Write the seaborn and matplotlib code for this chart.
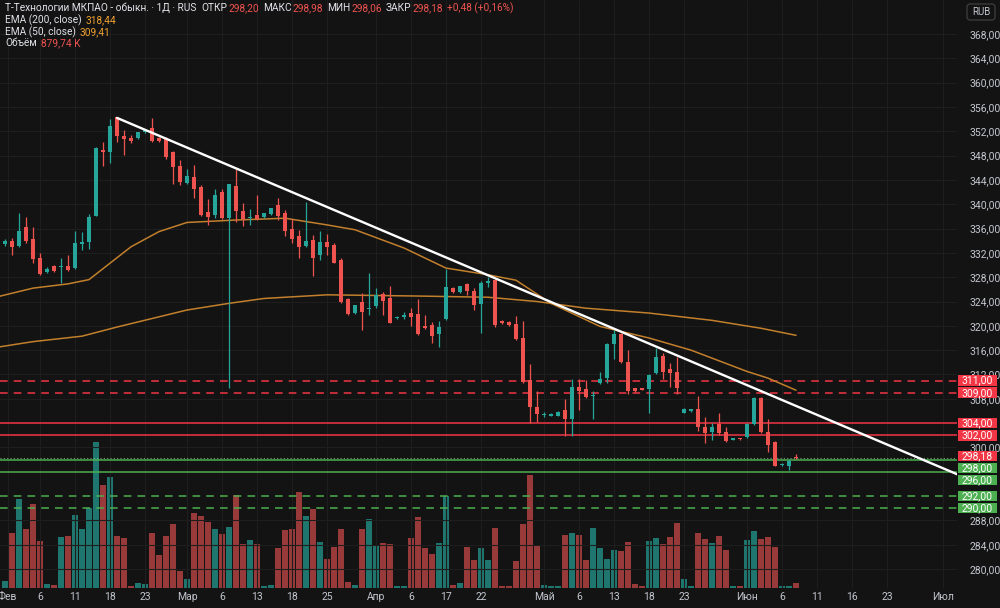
import numpy as np
import pandas as pd
import matplotlib
matplotlib.use("Agg")
import matplotlib.pyplot as plt
from matplotlib.patches import Rectangle, FancyBboxPatch
import seaborn as sns

# daily bars, index 0 = first visible bar
opens = [333.4, 334.0, 333.1, 336.3, 334.2, 331.2, 328.9, 329.8, 329.6, 329.8,
         329.5, 333.4, 333.8, 338.1, 349.0, 348.6, 354.3, 351.2, 350.9, 350.85,
         351.8, 352.5, 350.85, 350.85, 348.6, 346.3, 343.5, 344.5, 342.8, 338.7,
         338.2, 342.0, 337.7, 343.0, 338.95, 337.8, 338.2, 337.85, 338.35, 339.9,
         338.5, 336.0, 334.8, 333.2, 334.1, 331.65, 333.8, 333.3, 330.8, 324.4,
         322.05, 324.0, 322.8, 323.3, 325.2, 324.5, 321.35, 321.5, 322.1, 321.95,
         320.0, 320.1, 318.65, 321.1, 326.3, 325.5, 326.8, 325.8, 323.6, 327.1,
         327.5, 320.85, 320.6, 320.3, 317.95, 311.1, 306.7, 305.4, 305.2, 305.2,
         306.15, 304.6, 310.0, 309.6, 308.5, 310.55, 311.4, 317.0, 318.65, 314.1,
         309.7, 309.7, 309.55, 312.2, 315.0, 312.9, 312.45, 305.7, 305.95, 306.3,
         303.4, 302.5, 303.9, 302.5, 301.3, 301.45, 301.7, 303.9, 308.1, 302.6,
         300.95, 297.1, 297.0, 298.2]
highs = [334.2, 334.4, 338.5, 337.9, 336.3, 332.0, 329.6, 330.0, 331.1, 331.6,
         335.6, 335.5, 338.4, 349.4, 350.3, 354.0, 354.4, 352.2, 351.4, 351.95,
         352.3, 354.1, 351.0, 351.1, 348.8, 347.3, 345.75, 346.5, 343.2, 340.8,
         342.45, 342.45, 343.4, 345.75, 340.25, 339.2, 341.5, 338.6, 339.4, 341.0,
         339.05, 337.5, 335.8, 340.4, 335.0, 335.6, 335.1, 333.6, 331.1, 324.55,
         323.5, 325.35, 328.7, 326.3, 325.6, 326.55, 321.6, 322.2, 323.0, 324.4,
         321.8, 320.7, 320.85, 329.3, 326.4, 326.6, 327.1, 326.2, 327.3, 328.1,
         327.65, 321.0, 320.8, 321.6, 320.85, 313.7, 309.2, 305.8, 305.6, 306.0,
         308.0, 311.2, 311.2, 311.1, 309.3, 312.45, 317.1, 319.3, 318.8, 316.1,
         309.8, 309.8, 312.0, 316.3, 315.6, 313.85, 314.8, 306.5, 306.4, 308.45,
         305.0, 304.0, 305.7, 303.3, 301.5, 301.5, 304.1, 308.35, 308.35, 304.6,
         301.1, 297.4, 298.05, 298.98]
lows = [333.2, 331.6, 333.0, 333.7, 330.4, 328.4, 328.7, 328.9, 327.1, 329.0,
        329.4, 332.5, 332.6, 338.0, 346.3, 346.8, 350.3, 348.1, 350.0, 350.7,
        351.7, 350.3, 350.3, 347.4, 343.4, 343.2, 343.4, 341.0, 338.0, 336.6,
        337.7, 337.5, 309.8, 337.1, 336.5, 336.6, 337.4, 337.8, 338.3, 337.4,
        334.8, 333.7, 331.1, 333.0, 328.2, 330.8, 331.65, 330.3, 323.8, 321.8,
        321.95, 319.3, 321.8, 322.9, 321.8, 320.4, 321.2, 321.2, 319.9, 318.5,
        319.4, 317.2, 316.6, 320.95, 325.4, 325.4, 325.1, 322.6, 318.8, 326.4,
        319.85, 320.3, 320.0, 317.7, 310.65, 304.0, 304.2, 305.0, 305.1, 305.1,
        301.9, 301.9, 306.15, 308.2, 304.6, 310.4, 310.55, 314.5, 313.85, 308.8,
        309.1, 309.4, 305.6, 312.1, 311.2, 310.0, 308.8, 305.6, 305.8, 302.75,
        300.8, 301.2, 302.05, 300.95, 301.2, 301.3, 301.5, 303.7, 302.4, 299.3,
        296.95, 297.0, 296.3, 298.06]
closes = [334.0, 332.9, 335.6, 334.0, 331.0, 328.5, 329.4, 329.1, 329.8, 329.2,
          333.6, 333.8, 337.9, 349.2, 348.6, 352.9, 351.2, 350.8, 350.45, 351.8,
          352.2, 350.45, 350.4, 347.8, 346.2, 343.6, 344.6, 342.45, 338.2, 337.85,
          341.5, 337.7, 343.3, 338.9, 337.5, 337.9, 337.6, 338.5, 339.3, 338.1,
          335.6, 334.3, 332.9, 334.0, 331.1, 333.8, 333.0, 330.4, 324.0, 321.95,
          323.4, 322.2, 323.0, 325.1, 324.1, 320.5, 321.5, 321.8, 321.5, 318.65,
          319.65, 318.3, 319.75, 326.4, 325.5, 326.55, 325.8, 323.4, 327.1, 327.4,
          320.1, 320.4, 320.1, 317.8, 310.8, 306.6, 305.5, 305.5, 305.5, 305.9,
          304.6, 309.9, 309.2, 308.25, 308.7, 311.2, 317.0, 318.65, 314.0, 309.2,
          309.2, 309.45, 311.9, 314.9, 312.45, 312.3, 309.7, 306.4, 306.3, 303.3,
          302.3, 303.3, 302.3, 301.1, 301.45, 301.35, 303.9, 308.2, 302.6, 300.4,
          297.0, 297.3, 297.7, 298.18]
# volume, millions of shares
volumes = [1.17, 9.67, 15.7, 10.5, 14.9, 8.4, 0.70, 0.53, 9.1, 9.2,
           13.0, 10.4, 14.1, 25.8, 18.3, 19.6, 9.2, 8.9, 0.41, 0.88,
           0.70, 9.7, 5.9, 9.2, 11.3, 3.0, 1.6, 13.3, 12.7, 11.7,
           10.4, 9.6, 10.8, 16.4, 7.7, 8.5, 7.7, 0.41, 0.53, 7.1,
           10.2, 10.4, 16.9, 12.7, 13.9, 8.1, 5.2, 7.3, 10.4, 1.0,
           0.59, 10.5, 12.2, 7.4, 7.9, 7.8, 0.29, 0.41, 8.9, 12.5,
           7.0, 6.0, 8.0, 16.3, 0.59, 0.88, 7.3, 4.9, 7.0, 5.0,
           10.7, 0.29, 0.41, 4.7, 11.3, 19.9, 7.4, 0.53, 0.41, 0.29,
           9.4, 9.8, 9.3, 5.0, 10.6, 7.1, 5.1, 6.7, 6.5, 8.1,
           0.70, 0.41, 8.3, 8.8, 7.7, 9.0, 11.5, 1.6, 0.41, 9.7,
           8.7, 8.0, 9.2, 6.7, 0.29, 0.29, 8.5, 10.0, 8.7, 9.1,
           7.3, 0.41, 0.41, 0.88]

ema200_x = [-1, 4, 11, 16, 21, 26, 32, 37, 46, 59, 69, 76, 83, 92, 101, 108, 113]
ema200_y = [316.5, 317.4, 318.3, 319.8, 321.2, 322.6, 323.7, 324.5, 325.1, 324.9,
            324.7, 324.0, 322.9, 322.1, 320.9, 319.6, 318.44]
ema50_x = [-1, 4, 9, 12, 15, 18, 22, 26, 33, 40, 46, 50, 57, 63, 69, 73, 78, 85,
           92, 98, 106, 109, 113]
ema50_y = [324.8, 326.2, 326.9, 327.6, 330.3, 333.0, 335.5, 337.0, 337.4, 337.7,
           336.6, 335.8, 332.8, 329.5, 328.4, 327.5, 323.7, 319.9, 318.0, 316.0,
           312.5, 311.4, 309.41]

trend_x = [16, 136.4]
trend_y = [354.2, 295.4]

red_dashed = [311.0, 309.0]
red_solid = [304.0, 302.0]
green_solid = [298.0, 296.0]
green_dashed = [292.0, 290.0]
last_price = 298.18

# 292, 296 and 304 sit fully under the level tags, so they are not listed
price_ticks = [280, 284, 288, 300, 308, 312, 316, 320, 324, 328,
               332, 336, 340, 344, 348, 352, 356, 360, 364, 368]
date_pos = [0.4, 5, 10, 15, 20, 26, 31, 36, 41, 46, 53, 58, 63, 68, 77, 82, 87, 92,
            97, 106, 111, 116, 121, 126, 134]
date_lab = ["Фев", "6", "11", "18", "23", "Мар", "6", "13", "18", "25", "Апр", "6",
            "17", "22", "Май", "6", "13", "18", "23", "Июн", "6", "11", "16", "23", "Июл"]

BG = "#131313"
GRID = "#1e1e1e"
TXT = "#c3c6ce"
UP = "#26a69a"
DOWN = "#ef5350"
VUP = "#1f766e"
VDOWN = "#993a3a"
LRED = "#f23645"
LGREEN = "#4caf50"
EMA_C = "#c27f2c"

sns.set_style("dark")
plt.rcParams["font.family"] = ["Roboto", "DejaVu Sans"]

df = pd.DataFrame({"o": opens, "h": highs, "l": lows, "c": closes, "v": volumes})
df["i"] = np.arange(len(df))
df["dir"] = np.where(df["c"] >= df["o"], "up", "down")
cols = np.where(df["dir"] == "up", UP, DOWN)

fig = plt.figure(figsize=(10, 6.08), dpi=100, facecolor=BG)
rect = [0, 20 / 608, 957 / 1000, 588 / 608]
xlim = (-0.714, 136.0)
ylim = (276.88, 373.59)

# volume overlay underneath
ax_vol = fig.add_axes(rect)
sns.barplot(data=df, x="i", y="v", hue="dir", palette={"up": VUP, "down": VDOWN},
            native_scale=True, dodge=False, width=0.86, saturation=1,
            errorbar=None, legend=False, linewidth=0, ax=ax_vol)
ax_vol.set_xlim(*xlim)
ax_vol.set_ylim(0, 104)
ax_vol.set_axis_off()

# price pane
ax = fig.add_axes(rect)
ax.set_facecolor("none")
ax.set_xlim(*xlim)
ax.set_ylim(*ylim)
ax.grid(True, color=GRID, lw=0.8)
for s in ax.spines.values():
    s.set_visible(False)

for lv in red_dashed:
    ax.axhline(lv, color=LRED, lw=1.1, ls=(0, (5, 4)), zorder=2)
for lv in red_solid:
    ax.axhline(lv, color=LRED, lw=1.1, zorder=2)
for lv in green_solid:
    ax.axhline(lv, color=LGREEN, lw=1.1, zorder=2)
for lv in green_dashed:
    ax.axhline(lv, color=LGREEN, lw=1.1, ls=(0, (5, 4)), zorder=2)
ax.axhline(last_price, color="#9ad69c", lw=0.8, ls=(0, (1, 2)), alpha=0.7, zorder=2)

sns.lineplot(x=ema200_x, y=ema200_y, color=EMA_C, lw=1.1, ax=ax, zorder=3)
sns.lineplot(x=ema50_x, y=ema50_y, color=EMA_C, lw=1.1, ax=ax, zorder=3)

# candles
ax.vlines(df["i"], df["l"], df["h"], colors=cols, lw=0.9, zorder=4)
body_lo = np.minimum(df["o"], df["c"])
body_h = np.maximum((df["c"] - df["o"]).abs(), 0.18)
ax.bar(df["i"], body_h, bottom=body_lo, width=0.7, color=cols, lw=0, zorder=5)

sns.lineplot(x=trend_x, y=trend_y, color="white", lw=1.7, ax=ax, zorder=6)

ax.set_xticks(date_pos, date_lab)
ax.set_yticks(price_ticks)
ax.yaxis.set_major_formatter(lambda v, p: f"{v:.2f}".replace(".", ","))
ax.yaxis.tick_right()
ax.tick_params(axis="x", length=0, pad=3, colors=TXT, labelsize=7.5)
ax.tick_params(axis="y", length=0, pad=9, colors=TXT, labelsize=7.5)
ax.set_xlabel("")
ax.set_ylabel("")

# price labels on the right scale
ax_r = fig.add_axes([957 / 1000, 20 / 608, 43 / 1000, 588 / 608])
ax_r.set_xlim(0, 43)
ax_r.set_ylim(*ylim)
ax_r.set_axis_off()
box_h = 10.5 / 6.08
labels = [(311.0, LRED, 0), (309.0, LRED, 0), (304.0, LRED, 0), (302.0, LRED, 0),
          (298.18, LRED, 2.5), (298.0, LGREEN, -8.4), (296.0, LGREEN, -8.2),
          (292.0, LGREEN, 0), (290.0, LGREEN, 0)]
for val, c, shift in labels:
    yc = val + shift / 6.08
    ax_r.add_patch(Rectangle((1, yc - box_h / 2), 39, box_h, fc=c, ec="none"))
    ax_r.text(20.5, yc, f"{val:.2f}".replace(".", ","), color="white",
              fontsize=7.5, ha="center", va="center")

fig.patches.append(FancyBboxPatch((967, 608 - 20), 28, 16,
                                  boxstyle="round,pad=0,rounding_size=3",
                                  fc=BG, ec="#3a3a3a", lw=1, transform=None))
fig.text(981 / 1000, 1 - 12 / 608, "RUB", color=TXT, fontsize=7, ha="center", va="center")

# legend header, pieces laid out one after another
WHITE = "#e0e2e8"
VAL = "#ef5350"
ORG = "#f0a030"
renderer = fig.canvas.get_renderer()


def row(y, parts, x=5):
    for s, c, gap in parts:
        t = fig.text(x / 1000, 1 - y / 608, s, color=c, fontsize=7.3,
                     ha="left", va="center")
        x += t.get_window_extent(renderer).width + gap


row(8, [("Т-Технологии МКПАО - обыкн. · 1Д · RUS", WHITE, 5),
        ("ОТКР", WHITE, 1), ("298,20", VAL, 4),
        ("МАКС", WHITE, 1), ("298,98", VAL, 4),
        ("МИН", WHITE, 1), ("298,06", VAL, 4),
        ("ЗАКР", WHITE, 1), ("298,18", VAL, 4),
        ("+0,48 (+0,16%)", VAL, 0)])
row(20, [("EMA (200, close)", WHITE, 4), ("318,44", ORG, 0)])
row(32, [("EMA (50, close)", WHITE, 4), ("309,41", ORG, 0)])
row(43, [("Объём", WHITE, 4), ("879,74 K", VAL, 0)])

fig.savefig("out.png", dpi=100, facecolor=BG)
